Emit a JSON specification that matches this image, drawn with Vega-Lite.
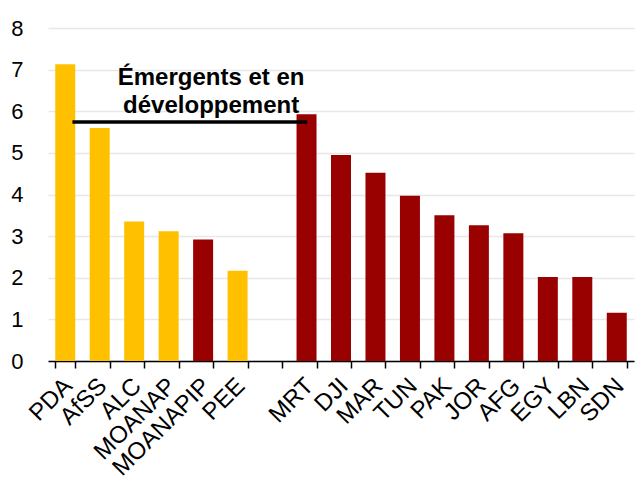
{
  "$schema": "https://vega.github.io/schema/vega-lite/v6.json",
  "width": 586,
  "height": 333,
  "autosize": {"type": "none"},
  "padding": {"left": 48, "top": 28, "right": 9, "bottom": 125},
  "background": "white",
  "config": {
    "view": {"stroke": null},
    "font": "Liberation Sans",
    "axis": {"labelFont": "Liberation Sans", "labelColor": "black"}
  },
  "datasets": {
    "barres": [
      {"code": "PDA", "valeur": 7.13, "groupe": "Régions"},
      {"code": "AfSS", "valeur": 5.6, "groupe": "Régions"},
      {"code": "ALC", "valeur": 3.35, "groupe": "Régions"},
      {"code": "MOANAP", "valeur": 3.12, "groupe": "Régions"},
      {"code": "MOANAPIP", "valeur": 2.92, "groupe": "MOANAPIP et pays"},
      {"code": "PEE", "valeur": 2.17, "groupe": "Régions"},
      {"code": "MRT", "valeur": 5.93, "groupe": "MOANAPIP et pays"},
      {"code": "DJI", "valeur": 4.95, "groupe": "MOANAPIP et pays"},
      {"code": "MAR", "valeur": 4.52, "groupe": "MOANAPIP et pays"},
      {"code": "TUN", "valeur": 3.97, "groupe": "MOANAPIP et pays"},
      {"code": "PAK", "valeur": 3.5, "groupe": "MOANAPIP et pays"},
      {"code": "JOR", "valeur": 3.26, "groupe": "MOANAPIP et pays"},
      {"code": "AFG", "valeur": 3.07, "groupe": "MOANAPIP et pays"},
      {"code": "EGY", "valeur": 2.02, "groupe": "MOANAPIP et pays"},
      {"code": "LBN", "valeur": 2.02, "groupe": "MOANAPIP et pays"},
      {"code": "SDN", "valeur": 1.16, "groupe": "MOANAPIP et pays"}
    ],
    "accolade": [
      {"debut": "PDA", "fin": "MRT", "niveau": 5.74}
    ],
    "etiquette": [
      {"code": "MOANAPIP", "niveau": 6.62, "texte": "Émergents et en\ndéveloppement"}
    ]
  },
  "encoding": {
    "x": {
      "field": "code",
      "type": "nominal",
      "title": null,
      "scale": {
        "domain": ["PDA", "AfSS", "ALC", "MOANAP", "MOANAPIP", "PEE", " ", "MRT", "DJI", "MAR", "TUN", "PAK", "JOR", "AFG", "EGY", "LBN", "SDN"],
        "paddingInner": 0.42,
        "paddingOuter": 0.21
      },
      "axis": {
        "labelAngle": -45,
        "labelAlign": "right",
        "labelBaseline": "middle",
        "labelFontSize": 24,
        "labelPadding": 14,
        "labelOffset": 3,
        "tickBand": "extent",
        "tickColor": "black",
        "tickSize": 7,
        "tickWidth": 1.5,
        "domainColor": "black",
        "domainWidth": 1.5,
        "grid": false
      }
    }
  },
  "layer": [
    {
      "data": {"name": "barres"},
      "mark": {"type": "bar"},
      "encoding": {
        "y": {
          "field": "valeur",
          "type": "quantitative",
          "title": null,
          "scale": {"domain": [0, 8], "nice": false},
          "axis": {
            "values": [0, 1, 2, 3, 4, 5, 6, 7, 8],
            "domain": false,
            "ticks": false,
            "tickSize": 0,
            "labelFontSize": 22,
            "labelPadding": 25,
            "gridColor": "#E8E8E8",
            "gridWidth": 1.5
          }
        },
        "color": {
          "field": "groupe",
          "type": "nominal",
          "legend": null,
          "scale": {"domain": ["Régions", "MOANAPIP et pays"], "range": ["#FFC000", "#990000"]}
        }
      }
    },
    {
      "data": {"name": "accolade"},
      "mark": {"type": "rule", "color": "black", "strokeWidth": 3.5},
      "encoding": {
        "x": {"field": "debut", "type": "nominal", "bandPosition": 0.86},
        "x2": {"field": "fin", "bandPosition": 0.53},
        "y": {"field": "niveau", "type": "quantitative"}
      }
    },
    {
      "data": {"name": "etiquette"},
      "mark": {
        "type": "text",
        "font": "Liberation Sans",
        "fontWeight": "bold",
        "fontSize": 24,
        "align": "center",
        "baseline": "alphabetic",
        "lineBreak": "\n",
        "lineHeight": 28,
        "color": "black"
      },
      "encoding": {
        "x": {"field": "code", "type": "nominal", "bandPosition": 0.9},
        "y": {"field": "niveau", "type": "quantitative"},
        "text": {"field": "texte"}
      }
    }
  ]
}
